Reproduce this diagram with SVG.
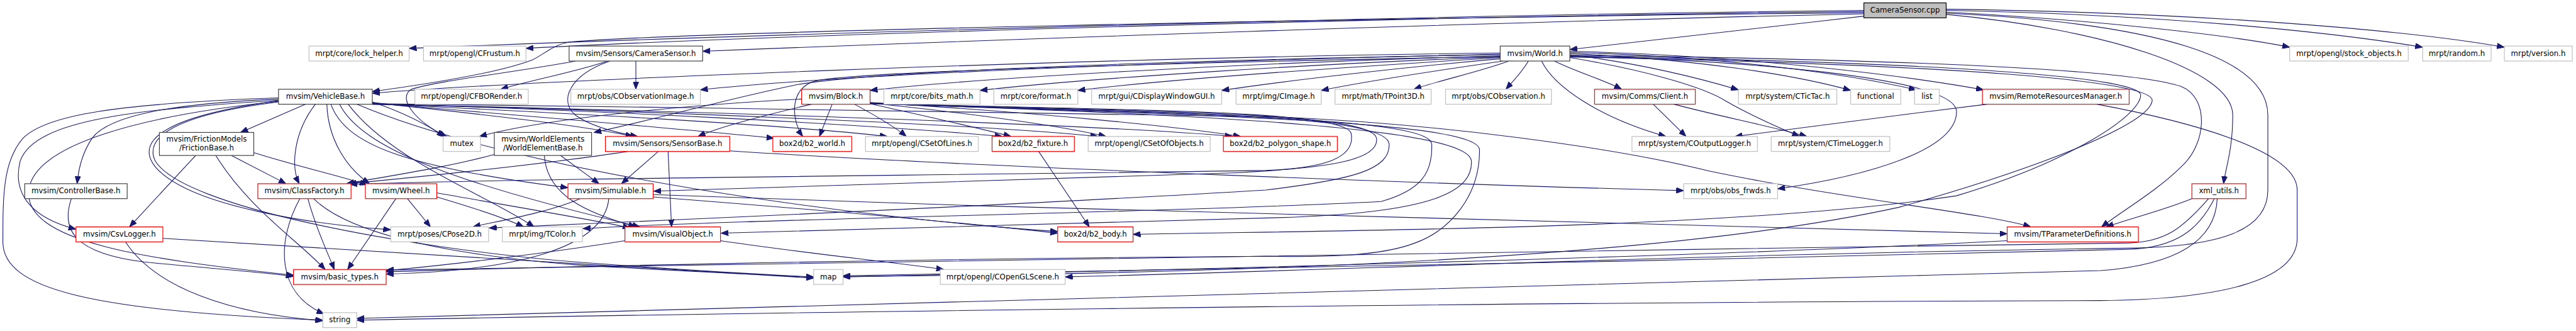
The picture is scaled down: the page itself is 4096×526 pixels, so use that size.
<svg xmlns="http://www.w3.org/2000/svg" width="4096" height="526" viewBox="0 0 4096 526">
<defs>
<style>
.n rect{fill:#fff;stroke-width:1.3}
.g rect{stroke:#bfbfbf}
.r rect{stroke:#ff0000}
.b rect{stroke:#404040}
.root rect{fill:#bfbfbf;stroke:#000}
text{font-family:"DejaVu Sans",sans-serif;font-size:12.9px;text-anchor:middle;fill:#000}
#edges path{fill:none;stroke:#191970;stroke-width:1.2;marker-end:url(#arr)}
</style>
<marker id="arr" markerUnits="userSpaceOnUse" markerWidth="14" markerHeight="10" refX="13" refY="5" orient="auto" viewBox="0 0 14 10"><path d="M0,0 L13,5 L0,10 Z" fill="#191970" stroke="#191970" stroke-width="1"/></marker>
</defs>
<rect width="4096" height="526" fill="#fff"/>
<g transform="scale(0.915)">
<g id="edges">
<path d="M3239,18 C2500,25 1300,60 711,84"/>
<path d="M3239,20 C2500,28 1400,58 914,84"/>
<path d="M3239,24 C2600,38 1700,70 1221,89"/>
<path d="M3239,22 C2300,32 1200,55 990,73 C960,78 945,95 925,104 C870,125 750,145 647,159"/>
<path d="M3239,28 C3050,50 2850,72 2728,86"/>
<path d="M3382,21 C3650,35 3880,62 3979,82"/>
<path d="M3382,18 C3750,25 4050,55 4210,82"/>
<path d="M3382,16 C3850,22 4200,55 4352,82"/>
<path d="M3382,25 C3650,50 3880,120 3880,200 C3880,260 3868,290 3864,319"/>
<path d="M3382,23 C3750,40 3941,100 3941,200 L3941,330 C3941,400 3860,428 3700,431 C3000,440 2300,470 1851,481"/>
<path d="M1056,106 C1000,125 920,140 870,155"/>
<path d="M1105,106 L1105,155"/>
<path d="M1060,106 C990,130 970,175 1000,200 C1030,222 1080,232 1108,237"/>
<path d="M1000,106 C900,125 760,140 715,155 C690,170 720,210 776,237"/>
<path d="M2607,92 C1900,100 900,140 647,162"/>
<path d="M2607,95 C2000,105 1500,125 1380,148 C1250,175 1150,205 1032,230"/>
<path d="M2607,94 C2200,103 1500,125 1217,156"/>
<path d="M2607,97 C2200,108 1700,135 1512,157"/>
<path d="M2607,99 C2300,110 1900,135 1703,157"/>
<path d="M2607,100 C2400,113 2050,135 1873,157"/>
<path d="M2607,102 C2450,116 2250,138 2123,157"/>
<path d="M2612,106 C2500,122 2380,140 2296,157"/>
<path d="M2622,106 C2570,125 2500,140 2457,155"/>
<path d="M2656,106 C2645,125 2630,140 2617,155"/>
<path d="M2701,106 C2740,125 2790,140 2818,155"/>
<path d="M2679,106 C2700,150 2780,205 2895,237"/>
<path d="M2607,98 C2000,110 1500,125 1420,140 C1370,150 1375,210 1395,237"/>
<path d="M2728,95 C2850,110 2950,135 3021,156"/>
<path d="M2728,93 C2950,103 3120,130 3216,157"/>
<path d="M2728,91 C3000,98 3220,130 3330,156"/>
<path d="M2728,89 C3050,97 3320,133 3447,156"/>
<path d="M2728,100 C2850,120 2960,150 3000,176 C3050,205 3100,225 3127,237"/>
<path d="M2728,97 C3100,108 3400,140 3400,194 C3400,260 3250,305 3089,328"/>
<path d="M2728,96 C3300,103 3700,120 3790,150 C3840,170 3835,250 3790,290 C3750,330 3690,365 3652,394"/>
<path d="M2728,98 C3400,108 3720,135 3720,165 C3720,200 3600,280 3400,340 C3000,400 2300,400 1969,407"/>
<path d="M2728,99 C3400,112 3745,140 3740,175 C3735,215 3550,290 3300,360 C2800,470 1800,478 1465,480"/>
<path d="M1393,172 C1200,182 950,205 833,237"/>
<path d="M1410,181 C1330,200 1250,220 1213,237"/>
<path d="M1446,181 L1424,237"/>
<path d="M1485,181 C1520,200 1555,220 1575,237"/>
<path d="M1512,180 C1600,200 1700,222 1757,237"/>
<path d="M1512,179 C1700,198 1850,220 1922,237"/>
<path d="M1512,178 C1800,195 2050,220 2156,237"/>
<path d="M1512,179 C1900,192 2340,188 2348,232 C2356,275 2300,292 2200,296 C1600,305 900,310 608,320"/>
<path d="M1512,179 C1950,194 2385,192 2392,240 C2398,280 2300,292 2150,300 C1700,315 1300,328 1136,332"/>
<path d="M1512,180 C2000,196 2410,196 2414,250 C2416,295 2350,312 2200,330 C1700,360 1100,385 850,396"/>
<path d="M1512,180 C2100,198 2485,205 2488,250 C2490,300 2470,330 2400,350 C2000,370 1300,380 1013,397"/>
<path d="M1512,180 C2150,200 2555,225 2557,280 C2559,330 2500,370 2220,378 C1800,390 1400,400 1253,405"/>
<path d="M1512,180 C2200,202 2570,215 2571,260 C2572,340 2520,400 2459,422 C2400,445 2300,447 2200,445 C1500,450 900,465 671,472"/>
<path d="M531,181 L418,230"/>
<path d="M484,172 C300,180 190,200 160,240 C140,270 136,300 134,319"/>
<path d="M484,174 C250,190 60,205 35,280 C20,340 60,380 132,398"/>
<path d="M484,170 C200,180 80,200 40,240 C5,280 5,340 5,420 C5,500 150,540 561,556"/>
<path d="M484,176 C250,200 60,250 50,330 C40,420 250,450 510,478"/>
<path d="M484,177 C300,200 250,240 270,280 C320,360 700,430 1000,455 C1200,470 1350,478 1414,481"/>
<path d="M484,175 C300,200 230,240 270,290 C330,360 550,390 679,399"/>
<path d="M548,181 C510,230 505,290 520,319"/>
<path d="M568,181 C570,240 600,290 642,319"/>
<path d="M575,181 C600,250 700,290 987,326"/>
<path d="M590,181 C630,260 800,320 1112,394"/>
<path d="M605,181 C680,280 850,340 928,394"/>
<path d="M620,181 C900,300 1500,380 1838,402"/>
<path d="M647,177 C700,195 740,215 772,237"/>
<path d="M647,178 C800,195 1000,215 1100,237"/>
<path d="M647,179 C900,200 1200,225 1345,240"/>
<path d="M647,180 C950,195 1350,215 1542,237"/>
<path d="M647,180 C1000,190 1500,215 1742,237"/>
<path d="M647,181 C1050,190 1700,215 1908,237"/>
<path d="M647,181 C1100,190 1900,215 2142,237"/>
<path d="M647,180 C1200,188 2000,195 2220,203 C2500,215 2800,255 2970,297 C3200,345 3450,370 3529,394"/>
<path d="M340,270 L225,394"/>
<path d="M402,270 L497,319"/>
<path d="M441,265 C520,290 590,305 638,321"/>
<path d="M375,270 C430,360 520,420 565,468"/>
<path d="M124,345 C105,400 130,440 250,455 C350,465 450,472 510,480"/>
<path d="M521,345 C480,420 480,510 563,545"/>
<path d="M535,345 C550,400 570,440 581,468"/>
<path d="M545,345 C600,400 750,440 1000,460 C1200,472 1350,478 1414,482"/>
<path d="M688,345 L604,468"/>
<path d="M708,345 L748,394"/>
<path d="M759,342 C820,360 880,380 910,394"/>
<path d="M759,335 C900,360 1050,385 1095,396"/>
<path d="M218,420 C270,500 400,545 561,557"/>
<path d="M283,414 C700,440 1100,465 1414,483"/>
<path d="M1008,345 C950,370 860,385 822,394"/>
<path d="M1058,345 C1050,430 900,470 671,476"/>
<path d="M1135,338 C2000,370 3000,395 3488,406"/>
<path d="M1135,342 C1500,370 1750,395 1838,405"/>
<path d="M1091,263 C950,285 750,305 606,319"/>
<path d="M1144,263 L1080,319"/>
<path d="M1161,263 L1167,394"/>
<path d="M1268,262 C1700,290 2500,320 2926,331"/>
<path d="M860,268 C780,290 680,305 602,319"/>
<path d="M974,270 L1041,319"/>
<path d="M946,270 C950,340 1020,370 1105,394"/>
<path d="M1252,418 C1400,440 1550,455 1640,468"/>
<path d="M1086,418 C950,440 780,460 671,470"/>
<path d="M1805,263 L1893,394"/>
<path d="M2873,181 L2930,237"/>
<path d="M2909,181 C2980,200 3080,220 3140,237"/>
<path d="M3453,181 C3300,200 3100,225 3015,237"/>
<path d="M3644,181 C3800,210 3992,260 3992,330 L3992,414 C3992,490 3850,520 3650,522 C2500,525 1200,545 620,556"/>
<path d="M3809,345 C3760,365 3700,380 3660,394"/>
<path d="M3838,345 C3790,400 3760,420 3700,422 C2500,440 1000,460 671,469"/>
<path d="M3848,345 C3820,400 3780,430 3700,433 C3000,450 1900,475 1465,479"/>
<path d="M3853,345 C3850,420 3780,460 3650,470 C2500,500 1300,540 620,553"/>
<path d="M3488,418 C3000,445 2000,470 1465,481"/>
</g>
<g id="n_root" class="n root"><rect x="3239" y="5" width="143" height="26"/><text x="3310.5" y="22">CameraSensor.cpp</text></g>
<g id="n_lock" class="n g"><rect x="537" y="80" width="174" height="26"/><text x="624" y="97">mrpt/core/lock_helper.h</text></g>
<g id="n_frustum" class="n g"><rect x="736" y="80" width="178" height="26"/><text x="825" y="97">mrpt/opengl/CFrustum.h</text></g>
<g id="n_camh" class="n b"><rect x="989" y="80" width="232" height="26"/><text x="1105" y="97">mvsim/Sensors/CameraSensor.h</text></g>
<g id="n_world" class="n b"><rect x="2607" y="80" width="121" height="26"/><text x="2667.5" y="97">mvsim/World.h</text></g>
<g id="n_stock" class="n g"><rect x="3979" y="80" width="206" height="26"/><text x="4082" y="97">mrpt/opengl/stock_objects.h</text></g>
<g id="n_random" class="n g"><rect x="4210" y="80" width="119" height="26"/><text x="4269.5" y="97">mrpt/random.h</text></g>
<g id="n_version" class="n g"><rect x="4352" y="80" width="118" height="26"/><text x="4411" y="97">mrpt/version.h</text></g>
<g id="n_vehicle" class="n b"><rect x="484" y="155" width="163" height="26"/><text x="565.5" y="172">mvsim/VehicleBase.h</text></g>
<g id="n_fbo" class="n g"><rect x="721" y="155" width="197" height="26"/><text x="819.5" y="172">mrpt/opengl/CFBORender.h</text></g>
<g id="n_obsimg" class="n g"><rect x="992" y="155" width="225" height="26"/><text x="1104.5" y="172">mrpt/obs/CObservationImage.h</text></g>
<g id="n_block" class="n r"><rect x="1393" y="155" width="119" height="26"/><text x="1452.5" y="172">mvsim/Block.h</text></g>
<g id="n_bits" class="n g"><rect x="1536" y="155" width="167" height="26"/><text x="1619.5" y="172">mrpt/core/bits_math.h</text></g>
<g id="n_format" class="n g"><rect x="1727" y="155" width="146" height="26"/><text x="1800" y="172">mrpt/core/format.h</text></g>
<g id="n_gui" class="n g"><rect x="1897" y="155" width="226" height="26"/><text x="2010" y="172">mrpt/gui/CDisplayWindowGUI.h</text></g>
<g id="n_cimage" class="n g"><rect x="2148" y="155" width="148" height="26"/><text x="2222" y="172">mrpt/img/CImage.h</text></g>
<g id="n_tpoint" class="n g"><rect x="2320" y="155" width="167" height="26"/><text x="2403.5" y="172">mrpt/math/TPoint3D.h</text></g>
<g id="n_cobs" class="n g"><rect x="2512" y="155" width="184" height="26"/><text x="2604" y="172">mrpt/obs/CObservation.h</text></g>
<g id="n_client" class="n r"><rect x="2771" y="155" width="175" height="26"/><text x="2858.5" y="172">mvsim/Comms/Client.h</text></g>
<g id="n_tictac" class="n g"><rect x="3021" y="155" width="171" height="26"/><text x="3106.5" y="172">mrpt/system/CTicTac.h</text></g>
<g id="n_functional" class="n g"><rect x="3216" y="155" width="87" height="26"/><text x="3259.5" y="172">functional</text></g>
<g id="n_list" class="n g"><rect x="3327" y="155" width="43" height="26"/><text x="3348.5" y="172">list</text></g>
<g id="n_rrm" class="n r"><rect x="3445" y="155" width="255" height="26"/><text x="3572.5" y="172">mvsim/RemoteResourcesManager.h</text></g>
<g id="n_friction" class="n b"><rect x="277" y="230" width="164" height="40"/><text x="359" y="246">mvsim/FrictionModels</text><text x="359" y="261">/FrictionBase.h</text></g>
<g id="n_mutex" class="n g"><rect x="770" y="237" width="65" height="26"/><text x="802.5" y="254">mutex</text></g>
<g id="n_web" class="n b"><rect x="859" y="230" width="169" height="40"/><text x="943.5" y="246">mvsim/WorldElements</text><text x="943.5" y="261">/WorldElementBase.h</text></g>
<g id="n_sensorbase" class="n r"><rect x="1052" y="237" width="216" height="26"/><text x="1160" y="254">mvsim/Sensors/SensorBase.h</text></g>
<g id="n_b2world" class="n r"><rect x="1343" y="237" width="137" height="26"/><text x="1411.5" y="254">box2d/b2_world.h</text></g>
<g id="n_lines" class="n g"><rect x="1504" y="237" width="196" height="26"/><text x="1602" y="254">mrpt/opengl/CSetOfLines.h</text></g>
<g id="n_fixture" class="n r"><rect x="1724" y="237" width="143" height="26"/><text x="1795.5" y="254">box2d/b2_fixture.h</text></g>
<g id="n_objects" class="n g"><rect x="1891" y="237" width="212" height="26"/><text x="1997" y="254">mrpt/opengl/CSetOfObjects.h</text></g>
<g id="n_polygon" class="n r"><rect x="2126" y="237" width="198" height="26"/><text x="2225" y="254">box2d/b2_polygon_shape.h</text></g>
<g id="n_outlog" class="n g"><rect x="2836" y="237" width="218" height="26"/><text x="2945" y="254">mrpt/system/COutputLogger.h</text></g>
<g id="n_timelog" class="n g"><rect x="3078" y="237" width="206" height="26"/><text x="3181" y="254">mrpt/system/CTimeLogger.h</text></g>
<g id="n_controller" class="n b"><rect x="43" y="319" width="178" height="26"/><text x="132" y="336">mvsim/ControllerBase.h</text></g>
<g id="n_classfactory" class="n r"><rect x="448" y="319" width="162" height="26"/><text x="529" y="336">mvsim/ClassFactory.h</text></g>
<g id="n_wheel" class="n r"><rect x="635" y="319" width="124" height="26"/><text x="697" y="336">mvsim/Wheel.h</text></g>
<g id="n_simulable" class="n r"><rect x="987" y="319" width="148" height="26"/><text x="1061" y="336">mvsim/Simulable.h</text></g>
<g id="n_obsfrwds" class="n g"><rect x="2926" y="319" width="163" height="26"/><text x="3007.5" y="336">mrpt/obs/obs_frwds.h</text></g>
<g id="n_xml" class="n r"><rect x="3809" y="319" width="94" height="26"/><text x="3856" y="336">xml_utils.h</text></g>
<g id="n_csv" class="n r"><rect x="132" y="394" width="151" height="26"/><text x="207.5" y="411">mvsim/CsvLogger.h</text></g>
<g id="n_pose" class="n g"><rect x="679" y="394" width="170" height="26"/><text x="764" y="411">mrpt/poses/CPose2D.h</text></g>
<g id="n_tcolor" class="n g"><rect x="873" y="394" width="139" height="26"/><text x="942.5" y="411">mrpt/img/TColor.h</text></g>
<g id="n_visual" class="n r"><rect x="1086" y="394" width="166" height="26"/><text x="1169" y="411">mvsim/VisualObject.h</text></g>
<g id="n_b2body" class="n r"><rect x="1838" y="394" width="131" height="26"/><text x="1903.5" y="411">box2d/b2_body.h</text></g>
<g id="n_tparam" class="n r"><rect x="3488" y="394" width="228" height="26"/><text x="3602" y="411">mvsim/TParameterDefinitions.h</text></g>
<g id="n_basic" class="n r"><rect x="510" y="468" width="161" height="26"/><text x="590.5" y="485">mvsim/basic_types.h</text></g>
<g id="n_map" class="n g"><rect x="1414" y="468" width="51" height="26"/><text x="1439.5" y="485">map</text></g>
<g id="n_scene" class="n g"><rect x="1634" y="468" width="217" height="26"/><text x="1742.5" y="485">mrpt/opengl/COpenGLScene.h</text></g>
<g id="n_string" class="n g"><rect x="561" y="543" width="59" height="26"/><text x="590.5" y="560">string</text></g>
</g>
</svg>
